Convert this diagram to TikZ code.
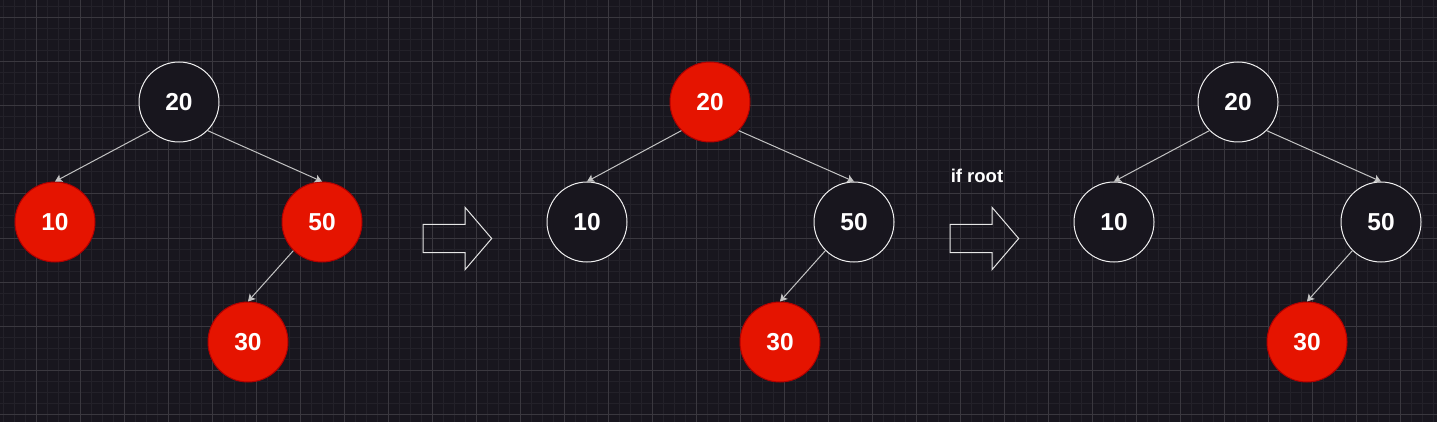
\documentclass[tikz,border=0pt]{standalone}
\usepackage{fontspec}
\setmainfont{Liberation Sans}
\usetikzlibrary{arrows.meta}
\definecolor{bg}{HTML}{18161E}
\definecolor{minorgrid}{HTML}{232129}
\definecolor{majorgrid}{HTML}{3A383F}
\definecolor{rbfill}{HTML}{E51400}
\definecolor{rbstroke}{HTML}{B20000}
\definecolor{nodeline}{HTML}{F0F0F0}
\definecolor{edgecol}{HTML}{C4C4C4}
\definecolor{hollowcol}{HTML}{E6E6E6}
\tikzset{
  rbnode/.style={circle, minimum size=80pt, inner sep=0pt, text=white,
    font=\bfseries\fontsize{24.5}{28}\selectfont},
  rednode/.style={rbnode, fill=rbfill, draw=rbstroke, line width=1pt},
  blacknode/.style={rbnode, fill=bg, draw=nodeline, line width=1pt},
  edge/.style={draw=edgecol, line width=1pt, -{Stealth[length=7pt,width=8pt,inset=1.5pt]}},
  hollow/.style={draw=hollowcol, line width=1pt, line join=miter},
  minorln/.style={draw=minorgrid, line width=1pt},
  majorln/.style={draw=majorgrid, line width=1pt},
  lbl/.style={text=white, font=\bfseries\fontsize{18.5}{22}\selectfont, inner sep=0pt}
}
\begin{document}
\begin{tikzpicture}[x=1pt,y=-1pt]
\fill[bg] (0,0) rectangle (1437,422);
\useasboundingbox (0,0) rectangle (1437,422);
% grid
\foreach \i in {0,...,130} {\draw[minorln] ({3+11*\i},0) -- ({3+11*\i},422);}
\foreach \j in {0,...,37} {\draw[minorln] (0,{7+11*\j}) -- (1437,{7+11*\j});}
\foreach \i in {0,...,32} {\draw[majorln] ({36+44*\i},0) -- ({36+44*\i},422);}
\foreach \j in {0,...,9} {\draw[majorln] (0,{18+44*\j}) -- (1437,{18+44*\j});}

% tree 1
\node[blacknode] (a20) at (179,102) {20};
\node[rednode] (a10) at (55,222) {10};
\node[rednode] (a50) at (322,222) {50};
\node[rednode] (a30) at (248,342) {30};
\draw[edge] (a20.-135) -- (a10.north);
\draw[edge] (a20.-45) -- (a50.north);
\draw[edge] (a50.-135) -- (a30.north);

% tree 2
\node[rednode] (b20) at (710,102) {20};
\node[blacknode] (b10) at (587,222) {10};
\node[blacknode] (b50) at (854,222) {50};
\node[rednode] (b30) at (780,342) {30};
\draw[edge] (b20.-135) -- (b10.north);
\draw[edge] (b20.-45) -- (b50.north);
\draw[edge] (b50.-135) -- (b30.north);

% tree 3
\node[blacknode] (c20) at (1238,102) {20};
\node[blacknode] (c10) at (1114,222) {10};
\node[blacknode] (c50) at (1381,222) {50};
\node[rednode] (c30) at (1307,342) {30};
\draw[edge] (c20.-135) -- (c10.north);
\draw[edge] (c20.-45) -- (c50.north);
\draw[edge] (c50.-135) -- (c30.north);

% hollow arrows
\draw[hollow] (423,224.3) -- (465,224.3) -- (465,207.3) -- (491.7,238.5) -- (465,269.7) -- (465,252.7) -- (423,252.7) -- cycle;
\draw[hollow] (950,224.3) -- (992,224.3) -- (992,207.3) -- (1018.7,238.5) -- (992,269.7) -- (992,252.7) -- (950,252.7) -- cycle;

\node[lbl, anchor=base] (ifroot) at (977,183) {if root};
\end{tikzpicture}
\end{document}
